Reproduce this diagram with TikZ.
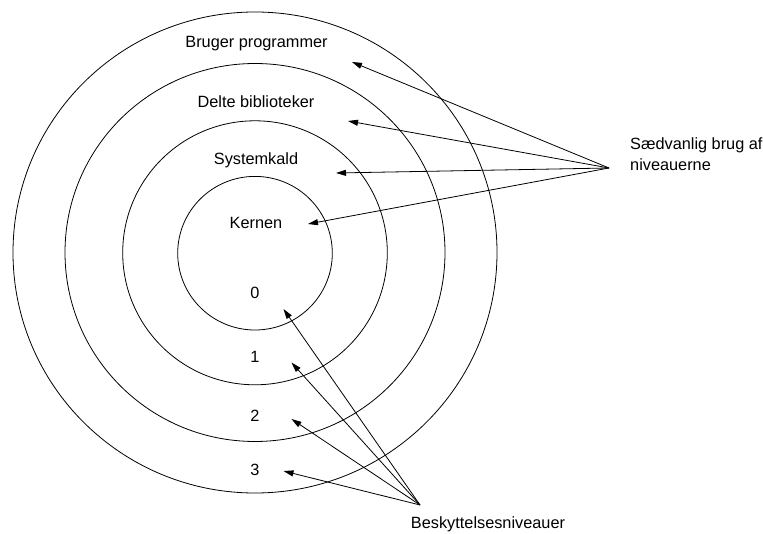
\documentclass[tikz,border=0pt]{standalone}
\usepackage{fontspec}
\setmainfont{Liberation Sans}
\usetikzlibrary{arrows.meta}
\begin{document}
\begin{tikzpicture}[x=1pt,y=-1pt,
  ring/.style={draw,line width=0.8pt},
  lbl/.style={font=\fontsize{16.3}{21.5}\selectfont,inner sep=0pt},
  ptr/.style={line width=0.8pt,-{Triangle[length=10pt,width=6pt]}}]
\useasboundingbox (0,0) rectangle (763,534);
% protection rings
\draw[ring] (255,252.5) ellipse [x radius=242, y radius=240.5];
\draw[ring] (255,252.5) ellipse [x radius=190, y radius=189];
\draw[ring] (255,252.8) ellipse [x radius=132.3, y radius=132];
\draw[ring] (255,253.2) ellipse [x radius=77.3, y radius=76.8];
% ring names
\node[lbl] (bp) at (256.5,44) {Bruger programmer};
\node[lbl] (db) at (256,102) {Delte biblioteker};
\node[lbl] (sk) at (256,160) {Systemkald};
\node[lbl] (kn) at (256,223) {Kernen};
% ring numbers
\node[lbl] (n0) at (255,293) {0};
\node[lbl] (n1) at (255,357) {1};
\node[lbl] (n2) at (255,416) {2};
\node[lbl] (n3) at (255,470) {3};
% target points inside the rings
\coordinate (tbp) at (352,62);
\coordinate (tdb) at (348,121);
\coordinate (tsk) at (336,173);
\coordinate (tkn) at (308,224);
\coordinate (t0) at (283.5,309);
\coordinate (t1) at (291.5,362.5);
\coordinate (t2) at (291.5,419);
\coordinate (t3) at (283.5,471);
% callouts
\coordinate (use) at (609,168);
\coordinate (prot) at (420,505);
\node[lbl,anchor=west,align=left] (usage) at (630,154) {Sædvanlig brug af\\niveauerne};
\node[lbl] (levels) at (488,524) {Beskyttelsesniveauer};
\foreach \t in {tbp,tdb,tsk,tkn} \draw[ptr] (use) -- (\t);
\foreach \t in {t0,t1,t2,t3} \draw[ptr] (prot) -- (\t);
\end{tikzpicture}
\end{document}
